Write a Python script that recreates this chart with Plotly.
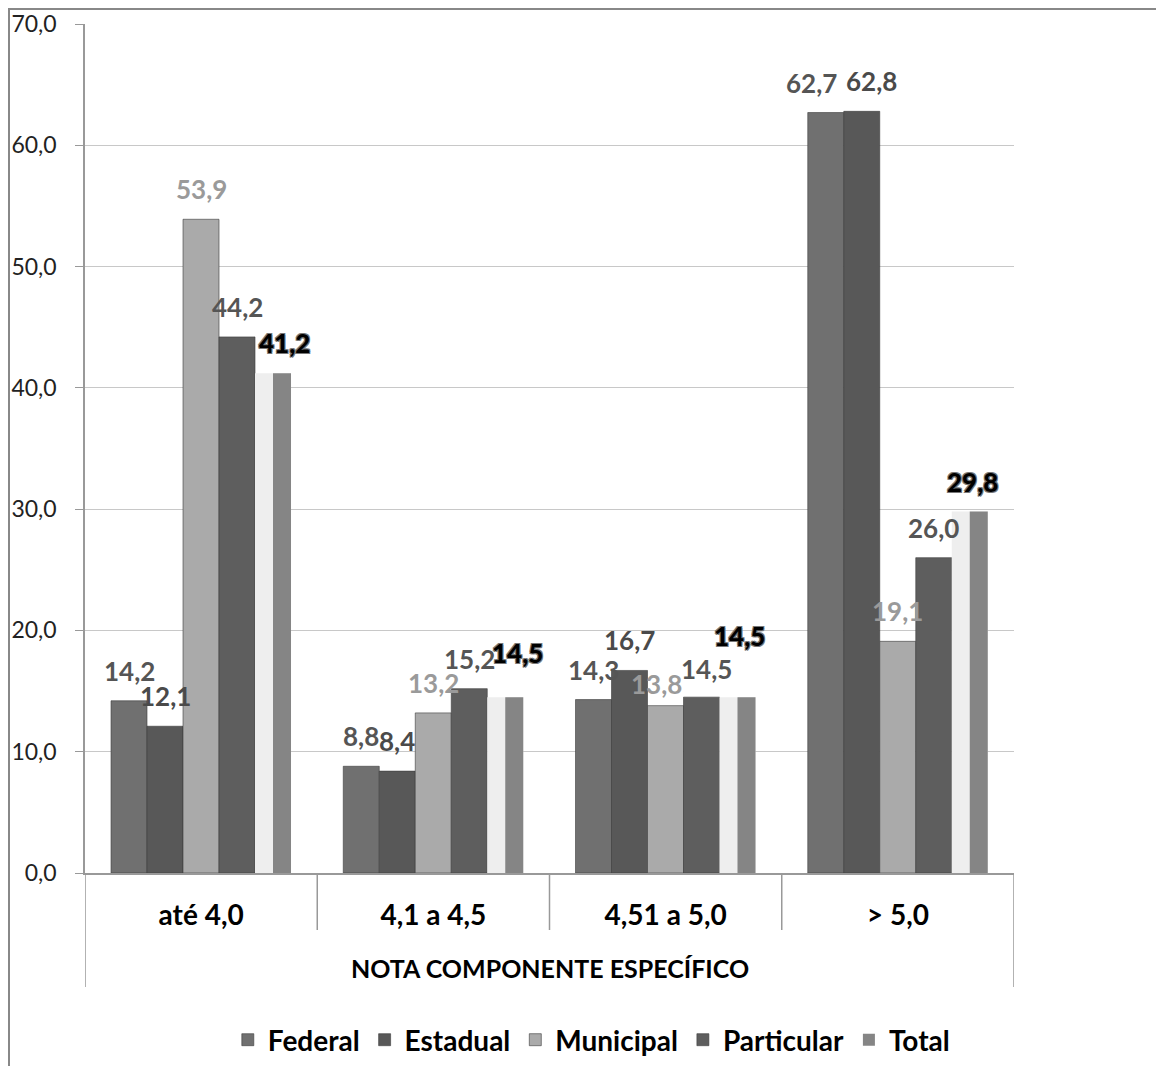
import plotly.graph_objects as go

categories = ["até 4,0", "4,1 a 4,5", "4,51 a 5,0", "> 5,0"]
federal = [14.2, 8.8, 14.3, 62.7]
estadual = [12.1, 8.4, 16.7, 62.8]
municipal = [53.9, 13.2, 13.8, 19.1]
particular = [44.2, 15.2, 14.5, 26.0]
total = [41.2, 14.5, 14.5, 29.8]
y_ticks = [0, 10, 20, 30, 40, 50, 60, 70]

FONT = "Lato"
BW = 0.155
start = -0.388

# layout geometry (figure px)
ML, MR, MT, MB = 77, 158, 16, 201
W, Hfig = 1164, 1066
PW = W - ML - MR
PH = Hfig - MT - MB
CATPX = PW / len(categories)

def fmt(v):
    return f"{v:.1f}".replace(".", ",")

series = [
    ("Federal", federal, "#707070", "#555555"),
    ("Estadual", estadual, "#585858", "#4a4a4a"),
    ("Municipal", municipal, "#aaaaaa", "#9a9a9a"),
    ("Particular", particular, "#5e5e5e", "#555555"),
]
# manual label nudges (px): (dx, dy)
label_nudge = {
    ("Federal", 3): (-14, 0), ("Estadual", 3): (10, 0),
    ("Municipal", 2): (-9, -8), ("Particular", 2): (5, -2),
    ("Total", 0): (11, 0), ("Total", 1): (12, 14),
    ("Total", 2): (2, 31), ("Total", 3): (3, 0),
}

fig = go.Figure()
annotations = []

def add_labels(name, vals, k, font):
    for j, v in enumerate(vals):
        dx, dy = label_nudge.get((name, j), (0, 0))
        annotations.append(dict(
            x=categories[j], y=v, xref="x", yref="y", text=fmt(v), showarrow=False,
            xanchor="center", yanchor="bottom",
            xshift=(start + k * BW + BW / 2) * CATPX + dx,
            yshift=12 + dy, font=font,
        ))

for i, (name, vals, col, tcol) in enumerate(series):
    fig.add_trace(go.Bar(
        x=categories, y=vals, name=name,
        offset=start + i * BW, width=BW,
        marker=dict(color=col, line=dict(color="rgba(60,60,60,0.6)", width=1)),
        cliponaxis=False,
    ))
    add_labels(name, vals, i, dict(family=FONT, size=26, color=tcol, weight="bold"))

# Total: light front half + grey side half
fig.add_trace(go.Bar(
    x=categories, y=total, name="Total", legendgroup="total", showlegend=False,
    offset=start + 4 * BW, width=BW,
    marker=dict(color="#eeeeee", line=dict(width=0)),
    cliponaxis=False,
))
fig.add_trace(go.Bar(
    x=categories, y=total, name="Total", legendgroup="total",
    offset=start + 4.5 * BW, width=BW / 2,
    marker=dict(color="#858585", line=dict(width=0)),
    cliponaxis=False,
))
add_labels("Total", total, 4,
           dict(family=FONT, size=26, color="#000000", weight=900,
                shadow="1px 1px 0 #777, -1px -1px 0 #777, 1px -1px 0 #777, -1px 1px 0 #777"))

annotations.append(dict(text="NOTA COMPONENTE ESPECÍFICO", xref="paper", yref="paper",
                        x=0.5, y=-95 / PH, xanchor="center", yanchor="middle",
                        showarrow=False,
                        font=dict(family=FONT, size=25, color="#000000", weight="bold")))

shapes = []
for b in [0.5, 1.5, 2.5]:
    shapes.append(dict(type="line", xref="x", yref="paper", x0=b, x1=b,
                       y0=0, y1=-57 / PH, line=dict(color="#999999", width=1.5)))
for b in [-0.5, 3.5]:
    shapes.append(dict(type="line", xref="x", yref="paper", x0=b, x1=b,
                       y0=0, y1=-114 / PH, line=dict(color="#999999", width=1.5)))
# outer chart frame
shapes.append(dict(type="rect", xref="paper", yref="paper",
                   x0=(1 - ML) / PW, x1=(W + 40 - ML) / PW,
                   y0=-(MB + 40) / PH, y1=1 + (MT - 1) / PH,
                   line=dict(color="#888888", width=2), fillcolor="rgba(0,0,0,0)",
                   layer="below"))

fig.update_layout(
    width=W, height=Hfig,
    margin=dict(l=ML, r=MR, t=MT, b=MB, autoexpand=False),
    paper_bgcolor="white", plot_bgcolor="white",
    barmode="overlay",
    font=dict(family=FONT, color="#000000"),
    showlegend=True,
    legend=dict(orientation="h", x=0.545, xanchor="center", y=-167 / PH,
                yanchor="middle", font=dict(family=FONT, size=28, color="#000000", weight="bold"),
                traceorder="normal"),
    shapes=shapes,
    annotations=annotations,
)
fig.update_xaxes(
    range=[-0.5, 3.5], showgrid=False, showline=True, linecolor="#999999", linewidth=1.5,
    ticks="", ticklabelstandoff=17,
    tickfont=dict(family=FONT, size=28, color="#000000", weight="bold"),
)
fig.update_yaxes(
    range=[0, 70], tickvals=y_ticks, ticktext=[fmt(v) for v in y_ticks],
    showgrid=True, gridcolor="#c8c8c8", gridwidth=1,
    showline=True, linecolor="#999999", linewidth=1.5,
    ticks="outside", ticklen=8, tickcolor="#999999", ticklabelstandoff=14,
    tickfont=dict(family=FONT, size=23, color="#222222"),
    zeroline=False,
)

fig.write_html("out.html")
